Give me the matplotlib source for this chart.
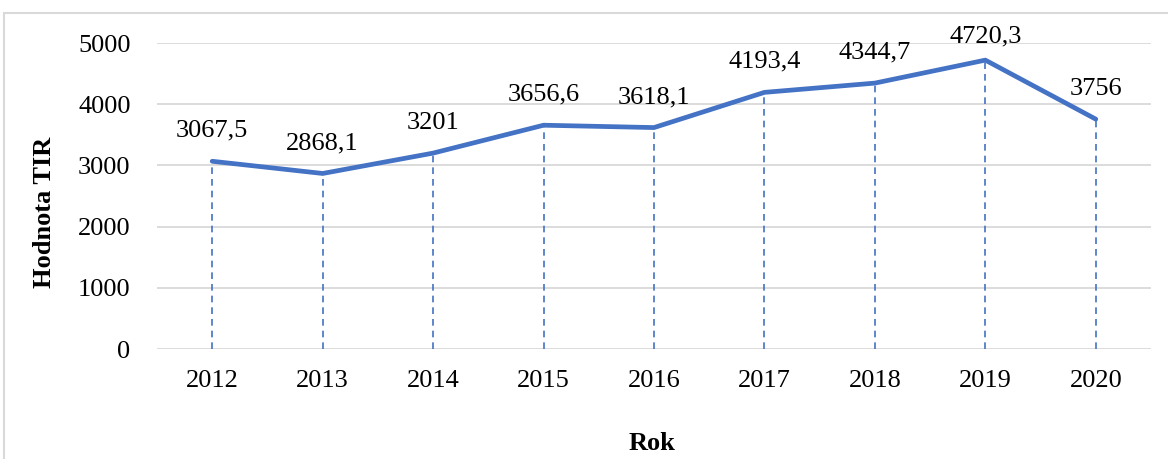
import matplotlib.pyplot as plt
from matplotlib.patches import Rectangle

years = ['2012', '2013', '2014', '2015', '2016', '2017', '2018', '2019', '2020']
values = [3067.5, 2868.1, 3201, 3656.6, 3618.1, 4193.4, 4344.7, 4720.3, 3756]
labels = ['3067,5', '2868,1', '3201', '3656,6', '3618,1', '4193,4', '4344,7', '4720,3', '3756']

plt.rcParams['font.family'] = ['Liberation Serif', 'DejaVu Serif']
blue = '#4472C4'

fig = plt.figure(figsize=(11.68, 4.59), dpi=100)
ax = fig.add_axes([157 / 1168, 1 - 349 / 459, (1151 - 157) / 1168, (349 - 43) / 459])

# chart border (cut off on the right and bottom)
fig.patches.append(Rectangle((4 / 1168, -0.1), 1.2, (459 - 13) / 459 + 0.1,
                             transform=fig.transFigure, fill=False,
                             edgecolor='#D9D9D9', linewidth=1.5))

x = list(range(len(years)))
ax.vlines(x, 0, values, colors=blue, linestyles=(0, (4, 3)), linewidth=1.2, zorder=2)
ax.plot(x, values, color=blue, linewidth=3.4, solid_capstyle='round', zorder=3)

for xi, v, lab in zip(x, values, labels):
    # the top label gets pushed down a bit so it stays inside the chart
    off = 9 if v > 4600 else 14
    ax.annotate(lab, (xi, v), xytext=(0, off), textcoords='offset points',
                ha='center', va='bottom', fontsize=19, annotation_clip=False)

ax.set_xlim(-0.5, len(years) - 0.5)
ax.set_ylim(0, 5000)
ax.set_yticks(range(0, 5001, 1000))
ax.set_xticks(x)
ax.set_xticklabels(years)
ax.tick_params(length=0, labelsize=19)
ax.tick_params(axis='x', pad=15)
ax.tick_params(axis='y', pad=19)
ax.grid(axis='y', color='#D9D9D9', linewidth=1.3)
ax.set_axisbelow(True)
for s in ax.spines.values():
    s.set_visible(False)

fig.text(45 / 1168, 1 - 212 / 459, 'Hodnota TIR', rotation=90, ha='center', va='center',
         fontsize=19, fontweight='bold')
fig.text(652 / 1168, 1 - 443 / 459, 'Rok', ha='center', va='center',
         fontsize=19, fontweight='bold')

fig.savefig('out.png', dpi=100)
